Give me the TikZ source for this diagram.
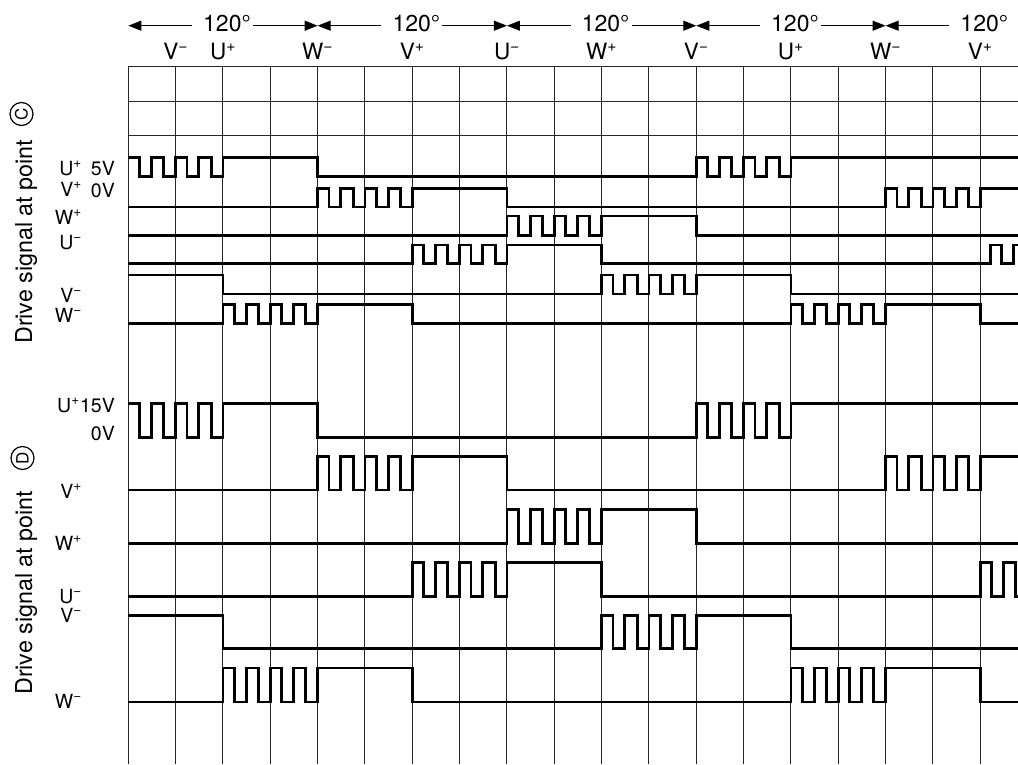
\documentclass[tikz,border=0pt]{standalone}
\usepackage{fontspec}
\setmainfont{TeX Gyre Heros}
\usetikzlibrary{arrows.meta}
\newcommand\mi{\textsuperscript{\char"2212}}
\newcommand\pl{\textsuperscript{+}}
\newcommand\sig[3]{\def\yH{#1}\def\yL{#2}\draw[sig] #3;}
\begin{document}
\begin{tikzpicture}[x=1pt,y=-1pt,
  gridline/.style={line width=1pt, black!85},
  sig/.style={line width=2.8pt, line join=miter, line cap=butt},
  dimarrow/.style={line width=1pt, -{Triangle[length=13pt,width=10pt]}},
  toplab/.style={font=\fontsize{22.5}{26}\selectfont, anchor=base, inner sep=0pt},
  deglab/.style={font=\fontsize{23}{27}\selectfont, anchor=base, inner sep=0pt},
  sidelab/.style={font=\fontsize{19.5}{23}\selectfont, anchor=base east, inner sep=0pt},
  vertlab/.style={font=\fontsize{23.3}{27}\selectfont, rotate=90, anchor=base west, inner sep=0pt},
  circlab/.style={circle, draw, line width=1.2pt, minimum size=23pt, inner sep=0pt, font=\fontsize{17}{20}\selectfont, rotate=90},
  chs/.style={insert path={-- ({#1+.24},\yH) -- ({#1+.24},\yL) -- ({#1+.49},\yL) -- ({#1+.49},\yH) -- ({#1+.75},\yH) -- ({#1+.75},\yL) -- ({#1+1},\yL)}},
  ch/.style={insert path={-- (#1,\yH)}, chs=#1}
]
\useasboundingbox (0,0) rectangle (1018,764);
\begin{scope}
\clip (0,0) rectangle (1018,764);
% grid
\foreach \k in {0,...,18}
  \draw[gridline] ({128.33+47.33*\k},66.7) -- ({128.33+47.33*\k},764);
\foreach \y in {66.7,101,135.3}
  \draw[gridline] (128.33,\y) -- (1018,\y);

% 120 degree arrows
\foreach \i in {0,...,4} {
  \node[deglab] (a\i) at ({128.33+47.33*(4*\i+2)+4},31) {120°};
  \coordinate (al\i) at ({128.33+47.33*(4*\i)},25.7);
  \coordinate (ar\i) at ({128.33+47.33*(4*\i+4)},25.7);
  \draw[dimarrow] ({128.33+47.33*(4*\i+2)-31},25.7) -- (al\i);
}
\foreach \i in {0,...,3}
  \draw[dimarrow] ({128.33+47.33*(4*\i+2)+30},25.7) -- (ar\i);

% phase labels
\foreach \k/\t in {1/{V\mi},2/{U\pl},4/{W\mi},6/{V\pl},8/{U\mi},10/{W\pl},12/{V\mi},14/{U\pl},16/{W\mi},18/{V\pl}}
  \node[toplab] (p\k) at ({128.33+47.33*\k},59) {\t};

% vertical titles
\node[vertlab] (tc) at (32,344) {Drive signal at point};
\node[circlab] (cc) at (21.5,114) {C};
\node[vertlab] (td) at (32,695) {Drive signal at point};
\node[circlab] (cd) at (22.5,458) {D};

% side labels C
\node[sidelab] (cu) at (82,175) {U\pl};
\node[sidelab] (c5) at (115,175) {5V};
\node[sidelab] (cv) at (82,196) {V\pl};
\node[sidelab] (c0) at (115,197) {0V};
\node[sidelab] (cw) at (82,224) {W\pl};
\node[sidelab] (cun) at (82,249) {U\mi};
\node[sidelab] (cvn) at (82,302) {V\mi};
\node[sidelab] (cwn) at (82,322) {W\mi};
% side labels D
\node[sidelab] (du) at (80,412) {U\pl};
\node[sidelab] (d15) at (115,412) {15V};
\node[sidelab] (d0) at (115,440) {0V};
\node[sidelab] (dv) at (82,498) {V\pl};
\node[sidelab] (dw) at (82,550) {W\pl};
\node[sidelab] (dun) at (82,603) {U\mi};
\node[sidelab] (dvn) at (82,622) {V\mi};
\node[sidelab] (dwn) at (82,708) {W\mi};

% signals
\begin{scope}[x=47.33pt, xshift=128.33pt]
% section C
\sig{157.3}{176.7}{(0,\yH) [chs=0] [ch=1] -- (2,\yH) -- (4,\yH) -- (4,\yL) -- (12,\yL) [ch=12] [ch=13] -- (14,\yH) -- (18.8,\yH)}
\sig{188.3}{207}{(0,\yL) -- (4,\yL) [ch=4] [ch=5] -- (6,\yH) -- (8,\yH) -- (8,\yL) -- (16,\yL) [ch=16] [ch=17] -- (18,\yH) -- (18.8,\yH)}
\sig{216}{235.3}{(0,\yL) -- (8,\yL) [ch=8] [ch=9] -- (10,\yH) -- (12,\yH) -- (12,\yL) -- (18.8,\yL)}
\sig{245}{263.7}{(0,\yL) -- (6,\yL) [ch=6] [ch=7] -- (8,\yH) -- (10,\yH) -- (10,\yL) -- (18.21,\yL) -- (18.21,\yH) -- (18.45,\yH) -- (18.45,\yL) -- (18.71,\yL) -- (18.71,\yH) -- (18.8,\yH)}
\sig{275}{294}{(0,\yH) -- (2,\yH) -- (2,\yL) -- (10,\yL) [ch=10] [ch=11] -- (12,\yH) -- (14,\yH) -- (14,\yL) -- (18.8,\yL)}
\sig{304.3}{323.3}{(0,\yL) -- (2,\yL) [ch=2] [ch=3] -- (4,\yH) -- (6,\yH) -- (6,\yL) -- (14,\yL) [ch=14] [ch=15] -- (16,\yH) -- (18,\yH) -- (18,\yL) -- (18.8,\yL)}
% section D
\sig{403.3}{437.7}{(0,\yH) [chs=0] [ch=1] -- (2,\yH) -- (4,\yH) -- (4,\yL) -- (12,\yL) [ch=12] [ch=13] -- (14,\yH) -- (18.8,\yH)}
\sig{456.7}{490}{(0,\yL) -- (4,\yL) [ch=4] [ch=5] -- (6,\yH) -- (8,\yH) -- (8,\yL) -- (16,\yL) [ch=16] [ch=17] -- (18,\yH) -- (18.8,\yH)}
\sig{509.3}{543.3}{(0,\yL) -- (8,\yL) [ch=8] [ch=9] -- (10,\yH) -- (12,\yH) -- (12,\yL) -- (18.8,\yL)}
\sig{562.3}{596.7}{(0,\yL) -- (6,\yL) [ch=6] [ch=7] -- (8,\yH) -- (10,\yH) -- (10,\yL) -- (18,\yL) [ch=18]}
\sig{615.3}{648.7}{(0,\yH) -- (2,\yH) -- (2,\yL) -- (10,\yL) [ch=10] [ch=11] -- (12,\yH) -- (14,\yH) -- (14,\yL) -- (18.8,\yL)}
\sig{668}{702}{(0,\yL) -- (2,\yL) [ch=2] [ch=3] -- (4,\yH) -- (6,\yH) -- (6,\yL) -- (14,\yL) [ch=14] [ch=15] -- (16,\yH) -- (18,\yH) -- (18,\yL) -- (18.8,\yL)}
\end{scope}
\end{scope}
\end{tikzpicture}
\end{document}
